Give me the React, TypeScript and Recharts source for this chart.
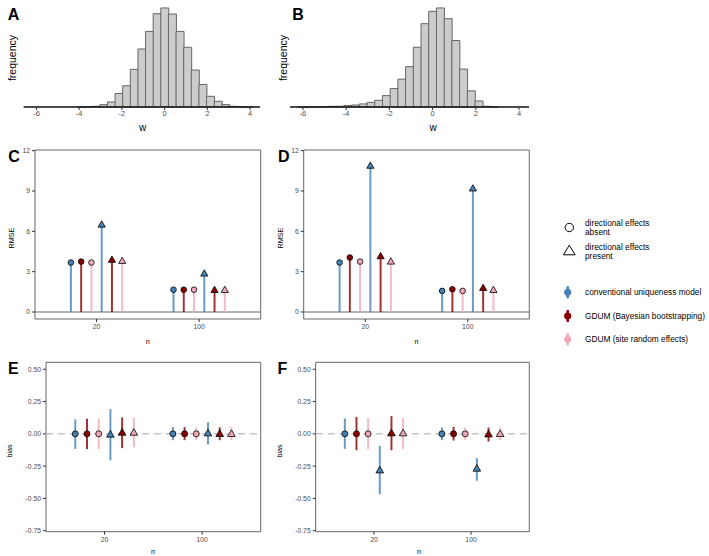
import React from "react";
import {
  Bar,
  Line,
  ComposedChart,
  Scatter,
  ErrorBar,
  XAxis,
  YAxis,
  ReferenceLine,
  ReferenceArea,
} from "recharts";

const FONT = '"Liberation Sans", Arial, Helvetica, sans-serif';

// histogram bins: index k, centre = k * binWidth
const binWidth = 0.357;
const binIndex = [
  -18, -17, -16, -15, -14, -13, -12, -11, -10, -9, -8, -7, -6, -5, -4, -3, -2,
  -1, 0, 1, 2, 3, 4, 5, 6, 7, 8, 9, 10, 11, 12,
];
const countsA = [
  0, 0, 0, 0, 0, 0, 0, 1, 3, 7, 24, 51, 136, 214, 380, 586, 763, 942, 1000,
  939, 763, 603, 373, 227, 108, 58, 24, 7, 3, 1, 0,
];
const countsB = [
  0, 1, 1, 2, 3, 7, 7, 14, 20, 31, 47, 68, 115, 186, 281, 407, 603, 841, 966,
  1000, 892, 671, 383, 163, 61, 7, 2, 0, 0, 0, 0,
];
const wTicks = [-6, -4, -2, 0, 2, 4];

// simulation results
const nLevels = ["20", "100"];
const methods = [
  "conventional uniqueness model",
  "GDUM (Bayesian bootstrapping)",
  "GDUM (site random effects)",
];
const methodColors = ["#4682B4", "#8B0000", "#EEA9B8"];

// per method: [absent n=20, absent n=100, present n=20, present n=100]
const rmseC = [
  [3.68, 1.66, 6.5, 2.86],
  [3.75, 1.66, 3.88, 1.64],
  [3.68, 1.66, 3.8, 1.64],
];
const rmseD = [
  [3.68, 1.57, 10.88, 9.19],
  [4.05, 1.69, 4.15, 1.79],
  [3.75, 1.57, 3.75, 1.64],
];

const biasE = [
  [0, 0, -0.005, 0.005],
  [0, 0, 0.01, 0],
  [0, 0, 0.01, 0],
];
const biasELow = [
  [-0.117, -0.049, -0.205, -0.083],
  [-0.119, -0.049, -0.111, -0.049],
  [-0.117, -0.047, -0.104, -0.049],
];
const biasEHigh = [
  [0.111, 0.052, 0.192, 0.09],
  [0.117, 0.052, 0.127, 0.05],
  [0.117, 0.05, 0.127, 0.05],
];

const biasF = [
  [0, 0, -0.282, -0.269],
  [0, 0, 0.005, -0.003],
  [0, 0, 0.005, 0],
];
const biasFLow = [
  [-0.117, -0.049, -0.469, -0.363],
  [-0.127, -0.052, -0.127, -0.06],
  [-0.117, -0.049, -0.117, -0.049],
];
const biasFHigh = [
  [0.119, 0.049, -0.093, -0.189],
  [0.13, 0.054, 0.137, 0.049],
  [0.122, 0.049, 0.124, 0.047],
];

const rmseTicks = [0, 3, 6, 9, 12];
const biasTicks = [-0.75, -0.5, -0.25, 0, 0.25, 0.5];

const Histogram = ({
  counts,
  left,
  plotLeft,
  plotRight,
}: {
  counts: number[];
  left: number;
  plotLeft: number;
  plotRight: number;
}) => {
  const data = binIndex.map((k, i) => ({
    bin: k,
    w: k * binWidth,
    count: counts[i],
  }));
  const lo = (binIndex[0] - 0.5) * binWidth;
  const hi = (binIndex[binIndex.length - 1] + 0.5) * binWidth;
  return (
    <div style={{ position: "absolute", left, top: 0 }}>
      <ComposedChart
        width={270}
        height={135}
        data={data}
        barCategoryGap={0}
        barGap={0}
        margin={{ top: 3, right: 270 - plotRight, left: plotLeft, bottom: 8 }}
      >
        <XAxis
          xAxisId="w"
          dataKey="w"
          type="number"
          domain={[lo, hi]}
          allowDataOverflow
          ticks={wTicks}
          height={20}
          axisLine={{ stroke: "#111", strokeWidth: 1.6 }}
          tickLine={{ stroke: "#333" }}
          tickSize={3}
          tickMargin={1}
          tick={{ fontSize: 7.5, fill: "#4d4d4d", fontFamily: FONT }}
        />
        <XAxis xAxisId="bins" dataKey="bin" hide height={0} />
        <YAxis hide domain={[0, 1050]} />
        <Bar
          xAxisId="bins"
          dataKey="count"
          fill="#cccccc"
          stroke="#666666"
          strokeWidth={1}
          isAnimationActive={false}
        />
        {/* invisible series that carries the numeric w axis */}
        <Line
          xAxisId="w"
          dataKey="count"
          stroke="none"
          dot={false}
          activeDot={false}
          isAnimationActive={false}
        />
      </ComposedChart>
    </div>
  );
};

const circleShape = (color: string, r: number) => (p: any) =>
  <circle cx={p.cx} cy={p.cy} r={r} fill={color} stroke="#000" strokeWidth={0.8} />;

const triangleShape = (color: string, s: number) => (p: any) => {
  const pts = `${p.cx},${p.cy - s * 1.05} ${p.cx + s},${p.cy + s * 0.7} ${p.cx - s},${p.cy + s * 0.7}`;
  return <polygon points={pts} fill={color} stroke="#000" strokeWidth={0.8} strokeLinejoin="round" />;
};

const DotPanel = ({
  left,
  top,
  height,
  yWidth,
  plotRight,
  marginTop,
  marginBottom,
  yDomain,
  yTicks,
  fmt,
  values,
  low,
  high,
  dodge,
  dashedZero,
}: {
  left: number;
  top: number;
  height: number;
  yWidth: number;
  plotRight: number;
  marginTop: number;
  marginBottom: number;
  yDomain: number[];
  yTicks: number[];
  fmt: (v: number) => string;
  values: number[][];
  low?: number[][];
  high?: number[][];
  dodge: number;
  dashedZero: boolean;
}) => {
  const series: any[] = [];
  [0, 1].forEach((e) => {
    methods.forEach((m, mi) => {
      const s = e * 3 + mi;
      const pts = nLevels.map((n, j) => {
        const v = values[mi][e * 2 + j];
        const err =
          low && high
            ? [v - low[mi][e * 2 + j], high[mi][e * 2 + j] - v]
            : [v, 0];
        return { x: j + 1 + (s - 2.5) * dodge, y: v, err };
      });
      series.push({ key: `${m}-${e}`, e, color: methodColors[mi], pts });
    });
  });
  const r = dashedZero ? 3 : 2.8;
  const ts = dashedZero ? 3.8 : 3.6;
  return (
    <div style={{ position: "absolute", left, top }}>
      <ComposedChart
        width={270}
        height={height}
        margin={{ top: marginTop, right: 270 - plotRight, left: 0, bottom: marginBottom }}
      >
        <XAxis
          type="number"
          dataKey="x"
          domain={[0.4, 2.6]}
          allowDataOverflow
          ticks={[1, 2]}
          tickFormatter={(v) => nLevels[v - 1]}
          height={20}
          axisLine={false}
          tickLine={{ stroke: "#333" }}
          tickSize={3}
          tickMargin={2}
          tick={{ fontSize: 6.8, fill: "#4d4d4d", fontFamily: FONT }}
        />
        <YAxis
          type="number"
          dataKey="y"
          domain={yDomain}
          allowDataOverflow
          ticks={yTicks}
          tickFormatter={fmt}
          width={yWidth}
          axisLine={false}
          tickLine={{ stroke: "#333" }}
          tickSize={3}
          tickMargin={2}
          tick={{ fontSize: 6.8, fill: "#4d4d4d", fontFamily: FONT }}
        />
        {dashedZero ? (
          <ReferenceLine y={0} stroke="#c4c4c4" strokeWidth={1.5} strokeDasharray="7 5" />
        ) : (
          <ReferenceLine y={0} stroke="#666" strokeWidth={1} />
        )}
        {series.map((s) => (
          <Scatter
            key={s.key}
            data={s.pts}
            isAnimationActive={false}
            shape={s.e === 0 ? circleShape(s.color, r) : triangleShape(s.color, ts)}
          >
            <ErrorBar
              dataKey="err"
              direction="y"
              width={0}
              stroke={s.color}
              strokeWidth={2}
              strokeOpacity={0.8}
              isAnimationActive={false}
            />
          </Scatter>
        ))}
        <ReferenceArea
          x1={0.4}
          x2={2.6}
          y1={yDomain[0]}
          y2={yDomain[1]}
          fill="none"
          stroke="#666"
          strokeWidth={1}
          ifOverflow="visible"
        />
      </ComposedChart>
    </div>
  );
};

const Txt = ({
  x,
  y,
  size,
  bold,
  rotate,
  children,
}: {
  x: number;
  y: number;
  size: number;
  bold?: boolean;
  rotate?: boolean;
  children: React.ReactNode;
}) => (
  <div
    style={{
      position: "absolute",
      left: x,
      top: y,
      transform: `translate(-50%, -50%)${rotate ? " rotate(-90deg)" : ""}`,
      fontSize: size,
      fontWeight: bold ? 700 : 400,
      lineHeight: 1,
      whiteSpace: "nowrap",
      color: "#000",
      fontFamily: FONT,
    }}
  >
    {children}
  </div>
);

const Legend = () => {
  const keyY = [292.3, 316, 339.3];
  return (
    <svg
      width={709}
      height={556}
      style={{ position: "absolute", left: 0, top: 0, pointerEvents: "none" }}
      fontFamily={FONT}
      fontSize={8.3}
    >
      <circle cx={569.3} cy={227.5} r={4.2} fill="none" stroke="#000" strokeWidth={1} />
      <text x={585} y={222.5} dominantBaseline="central">directional effects</text>
      <text x={585} y={231.8} dominantBaseline="central">absent</text>
      <polygon
        points="569.3,245.2 575.2,254.8 563.4,254.8"
        fill="none"
        stroke="#000"
        strokeWidth={1}
      />
      <text x={585} y={246.5} dominantBaseline="central">directional effects</text>
      <text x={585} y={255.8} dominantBaseline="central">present</text>
      {methods.map((m, i) => (
        <g key={m}>
          <line
            x1={567.7}
            x2={567.7}
            y1={keyY[i] - 6}
            y2={keyY[i] + 6}
            stroke={methodColors[i]}
            strokeWidth={2.5}
          />
          <circle cx={567.7} cy={keyY[i]} r={3.6} fill={methodColors[i]} />
          <text x={585} y={keyY[i]} dominantBaseline="central">{m}</text>
        </g>
      ))}
    </svg>
  );
};

const App = () => {
  const rmseDomain = [-0.52, 12.05];
  const biasDomain = [-0.758, 0.554];
  return (
    <div
      style={{
        position: "absolute",
        left: 0,
        top: 0,
        width: 709,
        height: 556,
        background: "#fff",
        fontFamily: FONT,
      }}
    >
      <Histogram counts={countsA} left={0} plotLeft={23.6} plotRight={259.9} />
      <Histogram counts={countsB} left={270} plotLeft={19.9} plotRight={259} />

      <DotPanel
        left={0}
        top={140}
        height={210}
        yWidth={35}
        plotRight={260.7}
        marginTop={10}
        marginBottom={11}
        yDomain={rmseDomain}
        yTicks={rmseTicks}
        fmt={(v) => String(v)}
        values={rmseC}
        dodge={0.1}
        dashedZero={false}
      />
      <DotPanel
        left={270}
        top={140}
        height={210}
        yWidth={33.7}
        plotRight={259.3}
        marginTop={10}
        marginBottom={11}
        yDomain={rmseDomain}
        yTicks={rmseTicks}
        fmt={(v) => String(v)}
        values={rmseD}
        dodge={0.1}
        dashedZero={false}
      />
      <DotPanel
        left={0}
        top={350}
        height={206}
        yWidth={46}
        plotRight={260.7}
        marginTop={12.3}
        marginBottom={4.3}
        yDomain={biasDomain}
        yTicks={biasTicks}
        fmt={(v) => v.toFixed(2)}
        values={biasE}
        low={biasELow}
        high={biasEHigh}
        dodge={0.12}
        dashedZero
      />
      <DotPanel
        left={270}
        top={350}
        height={206}
        yWidth={45.7}
        plotRight={259.3}
        marginTop={12.3}
        marginBottom={4.3}
        yDomain={biasDomain}
        yTicks={biasTicks}
        fmt={(v) => v.toFixed(2)}
        values={biasF}
        low={biasFLow}
        high={biasFHigh}
        dodge={0.12}
        dashedZero
      />

      <Txt x={13.5} y={15.3} size={16} bold>A</Txt>
      <Txt x={298} y={15.3} size={16} bold>B</Txt>
      <Txt x={14} y={156.7} size={16} bold>C</Txt>
      <Txt x={283.7} y={156.7} size={16} bold>D</Txt>
      <Txt x={13.3} y={369.3} size={16} bold>E</Txt>
      <Txt x={282.5} y={369.3} size={16} bold>F</Txt>

      <Txt x={12} y={58} size={10.5} rotate>frequency</Txt>
      <Txt x={283.3} y={57.5} size={10.5} rotate>frequency</Txt>
      <Txt x={142.7} y={128} size={10}>w</Txt>
      <Txt x={433} y={128} size={10}>w</Txt>

      <Txt x={12.3} y={238} size={7.2} rotate>RMSE</Txt>
      <Txt x={281} y={238} size={7.2} rotate>RMSE</Txt>
      <Txt x={147.8} y={341.7} size={7.2}>n</Txt>
      <Txt x={416.5} y={341.7} size={7.2}>n</Txt>

      <Txt x={10} y={451} size={7.2} rotate>bias</Txt>
      <Txt x={280} y={451} size={7.2} rotate>bias</Txt>
      <Txt x={153} y={551.5} size={7.2}>n</Txt>
      <Txt x={419} y={551.5} size={7.2}>n</Txt>

      <Legend />
    </div>
  );
};

export default App;
